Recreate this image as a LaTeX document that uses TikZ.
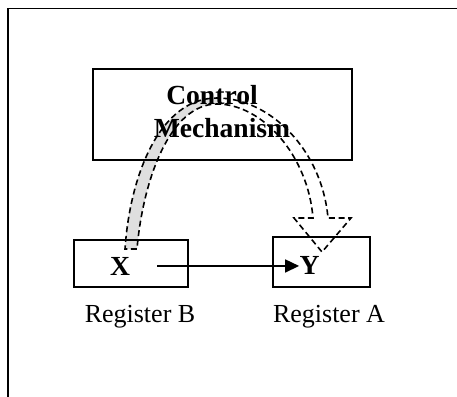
\documentclass[tikz,border=0pt]{standalone}
\usepackage{fontspec}
\setmainfont{Liberation Serif}
\usetikzlibrary{arrows.meta}
\tikzset{
 regbox/.style={draw, line width=0.85pt, inner sep=0pt},
 band/.style={line width=0.8pt, dash pattern=on 3pt off 1.8pt},
 lbl/.style={font=\fontsize{13}{16}\selectfont, anchor=base, inner sep=0pt},
 val/.style={lbl, font=\fontsize{13.8}{16}\selectfont\bfseries},
}

\begin{document}
\begin{tikzpicture}[x=0.5pt,y=-0.5pt]
\useasboundingbox (0,0) rectangle (457,397);
\draw[line width=0.8pt] (8,397) -- (8,8.5) -- (457,8.5);
% grey half of the curved arrow
\fill[gray!25] (125,249) .. controls (130,175) and (160,98) .. (217,98)
  -- (217,104) .. controls (170,104) and (143,180) .. (137,249) -- cycle;
% boxes
\node[regbox, minimum width=129.5pt, minimum height=45.5pt] (ctrl) at (222.5,114.5) {};
\node[regbox, minimum width=57pt, minimum height=23.5pt] (regB) at (131,263.5) {};
\node[regbox, minimum width=48.5pt, minimum height=25pt] (regA) at (321.5,262) {};
% texts
\node[val] (ctrltop) at (212,104) {Control};
\node[val] (ctrlbot) at (222,137) {Mechanism};
\node[val] (xval) at (120,275) {X};
\node[val] (yval) at (309.5,274) {Y};
\node[lbl] (nameB) at (140,322) {Register B};
\node[lbl] (nameA) at (329,322) {Register A};
\draw[line width=0.8pt, -{Triangle[length=7pt,width=6.5pt]}]
  ([xshift=13.5pt]xval.east) -- (xval.east -| yval.west);
% dashed outline of the curved arrow
\draw[band] (137,249) -- (125,249) .. controls (130,175) and (160,98) .. (217,98)
  .. controls (270,98) and (322,150) .. (328,218) -- (351,218) -- (322,252)
  -- (294,218) -- (313,218) .. controls (308,155) and (262,104) .. (217,104)
  .. controls (170,104) and (143,180) .. (137,249);
\end{tikzpicture}
\end{document}
